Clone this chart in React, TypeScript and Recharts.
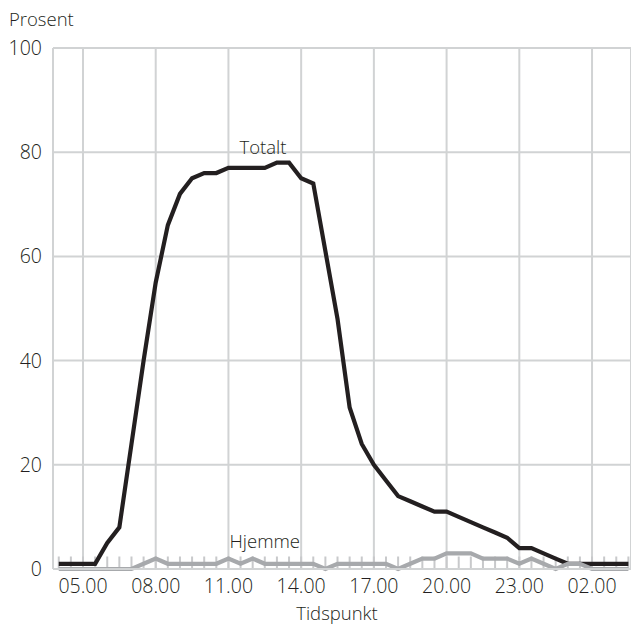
import React from 'react';
import { LineChart, Line, XAxis, YAxis, CartesianGrid, ReferenceLine, ReferenceDot } from 'recharts';

const times = [
  '04.00', '04.30', '05.00', '05.30', '06.00', '06.30', '07.00', '07.30',
  '08.00', '08.30', '09.00', '09.30', '10.00', '10.30', '11.00', '11.30',
  '12.00', '12.30', '13.00', '13.30', '14.00', '14.30', '15.00', '15.30',
  '16.00', '16.30', '17.00', '17.30', '18.00', '18.30', '19.00', '19.30',
  '20.00', '20.30', '21.00', '21.30', '22.00', '22.30', '23.00', '23.30',
  '00.00', '00.30', '01.00', '01.30', '02.00', '02.30', '03.00', '03.30',
];

const totalt = [
  1, 1, 1, 1, 5, 8, 24, 40,
  55, 66, 72, 75, 76, 76, 77, 77,
  77, 77, 78, 78, 75, 74, 61, 48,
  31, 24, 20, 17, 14, 13, 12, 11,
  11, 10, 9, 8, 7, 6, 4, 4,
  3, 2, 1, 1, 1, 1, 1, 1,
];

const hjemme = [
  0, 0, 0, 0, 0, 0, 0, 1,
  2, 1, 1, 1, 1, 1, 2, 1,
  2, 1, 1, 1, 1, 1, 0, 1,
  1, 1, 1, 1, 0, 1, 2, 2,
  3, 3, 3, 2, 2, 2, 1, 2,
  1, 0, 1, 1, 0, 0, 0, 0,
];

const yTicks = [0, 20, 40, 60, 80, 100];
const xTickLabels = ['05.00', '08.00', '11.00', '14.00', '17.00', '20.00', '23.00', '02.00'];

const data = times.map((t, i) => ({ i, t, totalt: totalt[i], hjemme: hjemme[i] }));
const majorIdx = xTickLabels.map((t) => times.indexOf(t));

const FONT = "'Open Sans', 'Noto Sans', sans-serif";
const WEIGHT = 300;
const TEXT = '#231f20';
const GRID = '#d1d3d4';

export default function App() {
  return (
    <div style={{ position: 'absolute', left: 0, top: 0, width: 631, height: 626, fontFamily: FONT }}>
      <LineChart
        width={631}
        height={626}
        data={data}
        margin={{ top: 48, right: 0, bottom: 0, left: 0 }}
      >
        <CartesianGrid stroke={GRID} strokeWidth={2} />
        <XAxis
          dataKey="i"
          type="number"
          domain={[-0.475, 47.215]}
          allowDataOverflow
          ticks={majorIdx}
          interval={0}
          tickFormatter={(v: number) => times[v]}
          height={57}
          tickSize={0}
          tickMargin={10}
          tickLine={false}
          axisLine={{ stroke: GRID, strokeWidth: 2 }}
          tick={{ fill: TEXT, fontSize: 19.5, fontFamily: FONT, fontWeight: WEIGHT }}
        />
        <YAxis
          type="number"
          domain={[0, 100]}
          ticks={yTicks}
          interval={0}
          width={53}
          tickSize={0}
          tickMargin={11}
          tickLine={false}
          axisLine={{ stroke: GRID, strokeWidth: 2 }}
          tick={{ fill: TEXT, fontSize: 19.5, fontFamily: FONT, fontWeight: WEIGHT }}
        />
        {times.map((t, i) => (
          <ReferenceLine
            key={t}
            segment={[{ x: i, y: 0 }, { x: i, y: 2.4 }]}
            stroke="#c8c9cb"
            strokeWidth={2}
          />
        ))}
        <Line
          dataKey="totalt"
          type="linear"
          stroke={TEXT}
          strokeWidth={4.2}
          dot={false}
          activeDot={false}
          isAnimationActive={false}
        />
        <Line
          dataKey="hjemme"
          type="linear"
          stroke="#a7a9ac"
          strokeWidth={4.2}
          dot={false}
          activeDot={false}
          isAnimationActive={false}
        />
        <ReferenceDot
          x={16.85}
          y={81}
          r={0}
          fill="none"
          stroke="none"
          ifOverflow="visible"
          label={{ value: 'Totalt', position: 'center', fill: TEXT, fontSize: 18.5, fontFamily: FONT, fontWeight: WEIGHT }}
        />
        <ReferenceDot
          x={17.0}
          y={5.3}
          r={0}
          fill="none"
          stroke="none"
          ifOverflow="visible"
          label={{ value: 'Hjemme', position: 'center', fill: TEXT, fontSize: 18.5, fontFamily: FONT, fontWeight: WEIGHT }}
        />
      </LineChart>
      <svg
        width={631}
        height={626}
        style={{ position: 'absolute', left: 0, top: 0, pointerEvents: 'none' }}
      >
        <text x={9} y={25.5} fill={TEXT} fontSize={18.5} fontFamily={FONT} fontWeight={WEIGHT}>
          Prosent
        </text>
        <text x={337} y={620} fill={TEXT} fontSize={18.5} fontFamily={FONT} fontWeight={WEIGHT} textAnchor="middle">
          Tidspunkt
        </text>
      </svg>
    </div>
  );
}
